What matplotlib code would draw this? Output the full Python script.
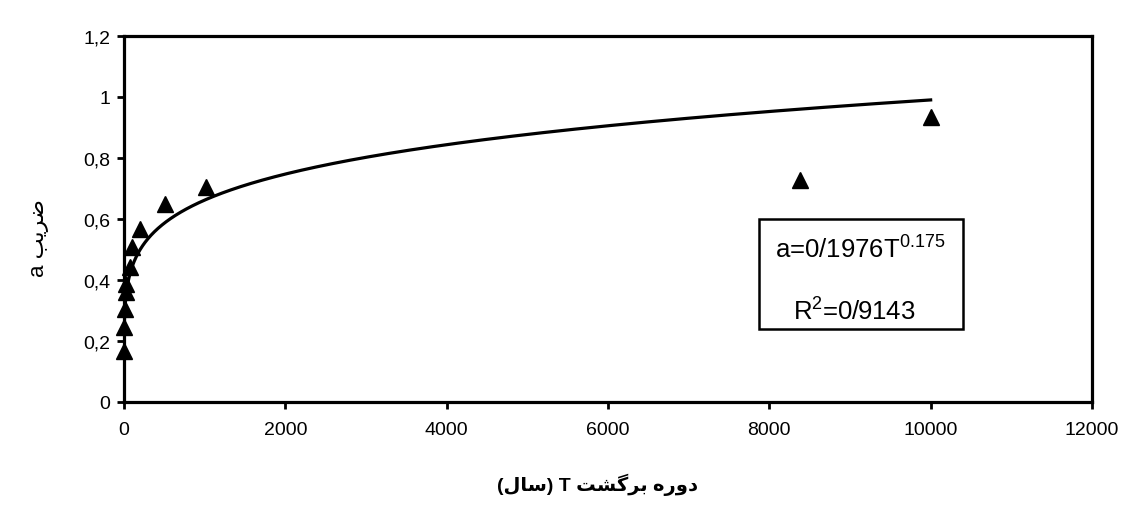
import numpy as np
import matplotlib
matplotlib.use('Agg')
import matplotlib.pyplot as plt
from matplotlib.patches import Rectangle
from matplotlib.ticker import FuncFormatter

plt.rcParams['font.family'] = ['Liberation Sans', 'DejaVu Sans']
plt.rcParams['mathtext.default'] = 'regular'

# return period (years) and observed coefficient a
T = [2, 5, 10, 20, 25, 75, 95, 200, 510, 1020, 8380, 10000]
a = [0.168, 0.245, 0.305, 0.36, 0.387, 0.443, 0.507, 0.567, 0.649, 0.704, 0.728, 0.934]

# power trendline a = c * T^k
coef = 0.1976
expo = 0.175
eqText = 'a=0/1976T$^{0.175}$'
r2Text = 'R$^{2}$=0/9143'

xTicks = [0, 2000, 4000, 6000, 8000, 10000, 12000]
yTicks = [0, 0.2, 0.4, 0.6, 0.8, 1.0, 1.2]

# persian labels written in visual order with presentation forms
xLabel = '(\ufedd\ufe8e\ufeb3) T \ufe96\ufeb8\ufb94\ufeae\ufe91 \ufee9\ufead\ufeed\ufea9'
yLabel = 'a \ufe90\ufef3\ufeae\ufebf'

fig = plt.figure(figsize=(11.31, 5.06), dpi=100)
ax = fig.add_axes([0.1096, 0.2036, 0.8559, 0.7233])

Tfit = np.linspace(min(T), max(T), 2000)
ax.plot(Tfit, coef * Tfit ** expo, color='black', lw=2.3, zorder=2)
ax.plot(T, a, ls='', marker='^', ms=12, color='black', zorder=3, clip_on=False)

ax.set_xlim(0, 12000)
ax.set_ylim(0, 1.2)
ax.set_xticks(xTicks)
ax.set_yticks(yTicks)
ax.yaxis.set_major_formatter(FuncFormatter(lambda v, p: ('%g' % round(v, 2)).replace('.', ',')))
ax.tick_params(direction='out', length=5, width=2, labelsize=14, pad=5)
ax.tick_params(axis='x', pad=9)
for s in ax.spines.values():
    s.set_linewidth(2.3)

# equation box
ax.add_patch(Rectangle((0.656, 0.199), 0.211, 0.301, transform=ax.transAxes,
                       fill=False, lw=1.8, ec='black', zorder=4))
ax.text(0.761, 0.418, eqText, transform=ax.transAxes, ha='center', va='center', fontsize=18.5)
ax.text(0.754, 0.249, r2Text, transform=ax.transAxes, ha='center', va='center', fontsize=18.5)

fig.text(0.528, 0.042, xLabel, ha='center', va='center', fontsize=14, fontweight='bold')
fig.text(0.034, 0.53, yLabel, ha='center', va='center', fontsize=16, rotation=90)

fig.savefig('out.png', dpi=100, facecolor='white')
